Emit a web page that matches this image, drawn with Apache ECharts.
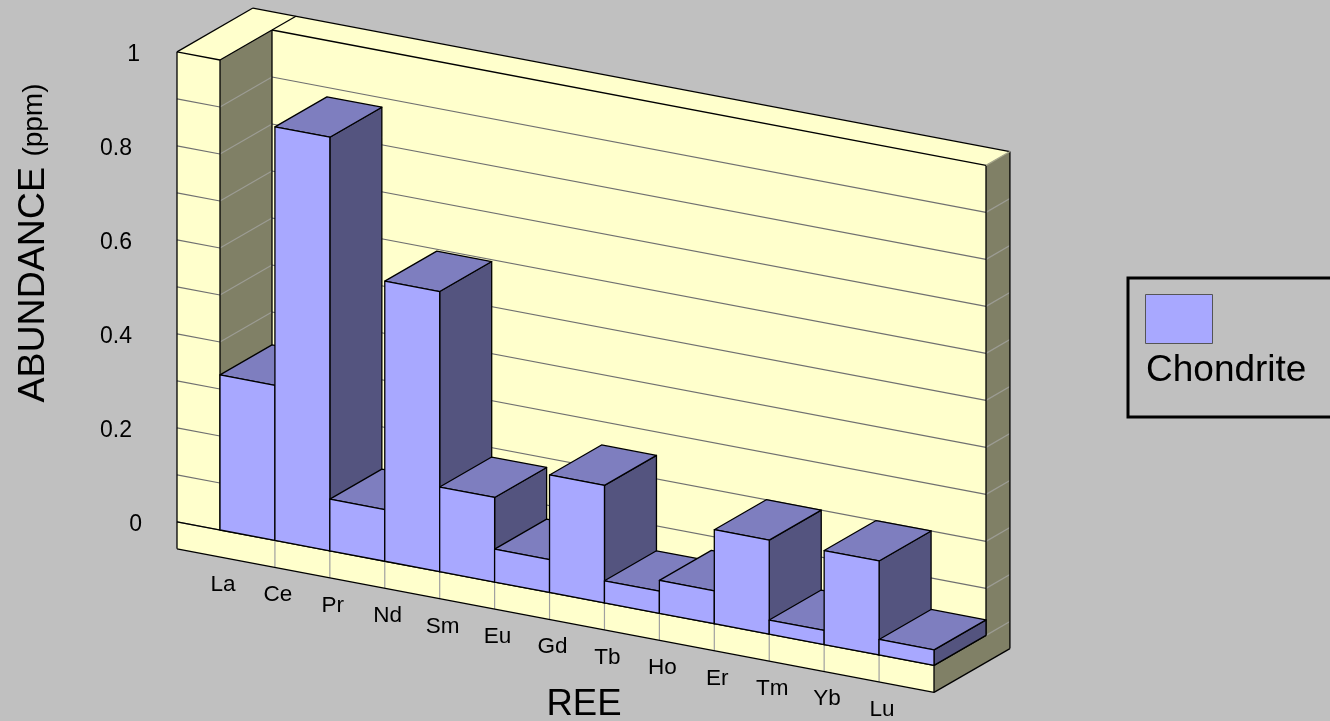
<!DOCTYPE html>
<html>
<head>
<meta charset="utf-8">
<style>html,body{margin:0;padding:0;background:#c0c0c0;overflow:hidden}#c{width:1330px;height:721px}</style>
<script src="https://cdn.jsdelivr.net/npm/echarts@6/dist/echarts.min.js"></script>
</head>
<body>
<div id="c"></div>
<script>
const categories = ['La','Ce','Pr','Nd','Sm','Eu','Gd','Tb','Ho','Er','Tm','Yb','Lu'];
const chondrite = [0.33,0.88,0.11,0.596,0.18,0.07,0.25,0.047,0.07,0.2,0.03,0.2,0.033];
const gridLevels = [0,0.1,0.2,0.3,0.4,0.5,0.6,0.7,0.8,0.9,1];
const seriesName = 'Chondrite';
const xTitle = 'REE';

const FONT = '"Liberation Sans", Arial, sans-serif';
const BG = '#c0c0c0', WALL = '#ffffcc', WALL_DARK = '#808066';
const FRONT = '#a8a8ff', TOP = '#7e7ebf', SIDE = '#54547f';
const GRID = '#707070', GRID_DARK = '#9c9c94', EDGE = '#000000', GW = 1.2, EW = 1.3;
const SHEAR = 0.1896;           // screen drop per screen px along the category direction
const DEPTH = [52, -30];        // screen vector of one bar depth
const WALL_C = -0.783, WALL_D = 1.46, PLATE = 0.0575, N = categories.length;

function projector(api) {
  const bw = api.size([1, 0])[0];
  const left = api.coord([0, 0])[0] - bw / 2;
  return (c, v, d) => {
    const y = api.coord([0, v])[1];
    return [left + c * bw + d * DEPTH[0], y + 8 + c * bw * SHEAR + d * DEPTH[1]];
  };
}
const poly = (pts, fill, stroke, lw) => ({
  type: 'polygon', shape: { points: pts },
  style: { fill, stroke: stroke || 'none', lineWidth: lw === undefined ? 1 : lw, lineJoin: 'round' }
});
const line = (a, b, stroke, lw) => ({
  type: 'polyline', shape: { points: [a, b] },
  style: { fill: 'none', stroke, lineWidth: lw === undefined ? 1 : lw }
});

function renderFrame(params, api) {
  const P = projector(api), ch = [];
  // wall surfaces
  ch.push(poly([P(WALL_C,1,0),P(WALL_C,1,WALL_D),P(N,1,WALL_D),P(N,1,1),P(0,1,1),P(0,1,0)], WALL));
  ch.push(poly([P(WALL_C,1,0),P(0,1,0),P(0,-PLATE,0),P(N,-PLATE,0),P(WALL_C,-PLATE,0)], WALL));
  ch.push(poly([P(WALL_C,0,0),P(N,0,0),P(N,-PLATE,0),P(WALL_C,-PLATE,0)], WALL));
  ch.push(poly([P(0,0,1),P(N,0,1),P(N,1,1),P(0,1,1)], WALL));
  ch.push(poly([P(0,0,0),P(0,0,1),P(0,1,1),P(0,1,0)], WALL_DARK));
  ch.push(poly([P(N,1,1),P(N,1,WALL_D),P(N,-PLATE,WALL_D),P(N,-PLATE,0),P(N,0,0),P(N,0,1)], WALL_DARK));
  // grid lines on every wall
  gridLevels.forEach(v => {
    if (v < 1) {
      ch.push(line(P(0,v,1), P(N,v,1), GRID, GW));
      ch.push(line(P(N,v,1), P(N,v,WALL_D), GRID_DARK, GW));
      ch.push(line(P(WALL_C,v,0), P(0,v,0), GRID, GW));
      ch.push(line(P(0,v,0), P(0,v,1), GRID_DARK, GW));
    }
  });
  // category dividers on the front plate
  categories.forEach((_, i) => {
    if (i > 0) ch.push(line(P(i,0,0), P(i,-PLATE,0), '#a0a0a0', GW));
  });
  // outlines
  const outlines = [
    [P(WALL_C,1,0),P(WALL_C,1,WALL_D)], [P(WALL_C,1,WALL_D),P(N,1,WALL_D)],
    [P(N,1,WALL_D),P(N,-PLATE,WALL_D)], [P(N,-PLATE,WALL_D),P(N,-PLATE,0)],
    [P(N,-PLATE,0),P(WALL_C,-PLATE,0)], [P(WALL_C,-PLATE,0),P(WALL_C,1,0)],
    [P(WALL_C,1,0),P(0,1,0)], [P(0,1,0),P(0,0,0)], [P(0,1,0),P(0,1,1)],
    [P(0,1,1),P(0,1,WALL_D)], [P(0,1,1),P(N,1,1)], [P(0,1,1),P(0,0,1)],
    [P(N,1,1),P(N,0,1)], [P(WALL_C,0,0),P(N,0,0)], [P(N,0,0),P(N,-PLATE,0)],
    [P(N,0,0),P(N,0,1)]
  ];
  outlines.forEach(o => ch.push(line(o[0], o[1], EDGE, EW)));
  ch.push(line(P(N,1,1), P(N,1,WALL_D), '#a8a88c', GW));
  // category labels follow the sheared base
  categories.forEach((name, i) => {
    const p = P(i + 0.5, -PLATE, 0);
    ch.push({ type: 'text', style: { text: name, x: p[0] - 24.5, y: p[1] + 22.5,
      align: 'center', verticalAlign: 'middle', fill: '#000', font: '22.5px ' + FONT } });
  });
  return { type: 'group', children: ch };
}

function renderBar(params, api) {
  const P = projector(api);
  const i = api.value(0), v = api.value(1);
  return { type: 'group', children: [
    poly([P(i+1,0,0),P(i+1,0,1),P(i+1,v,1),P(i+1,v,0)], SIDE, EDGE, EW),
    poly([P(i,v,0),P(i,v,1),P(i+1,v,1),P(i+1,v,0)], TOP, EDGE, EW),
    poly([P(i,0,0),P(i+1,0,0),P(i+1,v,0),P(i,v,0)], FRONT, EDGE, EW)
  ]};
}

const chart = echarts.init(document.getElementById('c'), null, { renderer: 'canvas' });
chart.setOption({
  animation: false,
  backgroundColor: BG,
  textStyle: { fontFamily: FONT },
  grid: { left: 220, width: 714, top: 52, height: 470, outerBoundsMode: 'none' },
  xAxis: {
    type: 'category', data: categories, boundaryGap: true,
    axisLine: { show: false }, axisTick: { show: false }, axisLabel: { show: false }, splitLine: { show: false },
    name: xTitle, nameLocation: 'middle', nameGap: 164,
    nameTextStyle: { fontSize: 36.5, color: '#000', fontFamily: FONT, padding: [0, 0, 0, 14] }
  },
  yAxis: {
    type: 'value', min: 0, max: 1, interval: 0.2, offset: 43,
    axisLine: { show: false }, axisTick: { show: false }, splitLine: { show: false },
    axisLabel: {
      margin: 35, color: '#000', fontSize: 23, fontFamily: FONT,
      formatter: v => v === 0 ? '{z|0}' : v === 1 ? '{o|1}' : '{d|' + v + '}',
      rich: {
        z: { fontSize: 23, color: '#000', fontFamily: FONT, padding: [6, 0, 0, 0] },
        o: { fontSize: 23, color: '#000', fontFamily: FONT, padding: [6, 2, 0, 0] },
        d: { fontSize: 23, color: '#000', fontFamily: FONT, padding: [6, 10, 0, 0] }
      }
    },
    name: '{a|ABUNDANCE }{b|(ppm)}', nameLocation: 'middle', nameRotate: 90, nameGap: 124,
    nameTextStyle: {
      padding: [0, 0, 0, 88],
      rich: {
        a: { fontSize: 37.5, color: '#000', fontFamily: FONT },
        b: { fontSize: 28, color: '#000', fontFamily: FONT }
      }
    }
  },
  legend: {
    data: [seriesName], left: 1128, top: 278, orient: 'vertical',
    icon: 'rect', itemWidth: 67, itemHeight: 49,
    padding: [16, 200, 73, 17], borderColor: '#000', borderWidth: 3,
    formatter: () => '', selectedMode: false,
    itemStyle: { color: FRONT, borderColor: '#555', borderWidth: 1 }
  },
  graphic: [{
    type: 'text', left: 1146, top: 352, silent: true,
    style: { text: seriesName, fill: '#000', font: '37px ' + FONT }
  }],
  series: [
    { type: 'custom', name: 'frame', coordinateSystem: 'cartesian2d', silent: true,
      renderItem: renderFrame, data: [[0, 0]], encode: { x: 0, y: 1 }, z: 1 },
    { type: 'custom', name: seriesName, coordinateSystem: 'cartesian2d', silent: true,
      itemStyle: { color: FRONT }, renderItem: renderBar,
      data: chondrite.map((v, i) => [i, v]), encode: { x: 0, y: 1 }, z: 2 }
  ]
});
</script>
</body>
</html>
